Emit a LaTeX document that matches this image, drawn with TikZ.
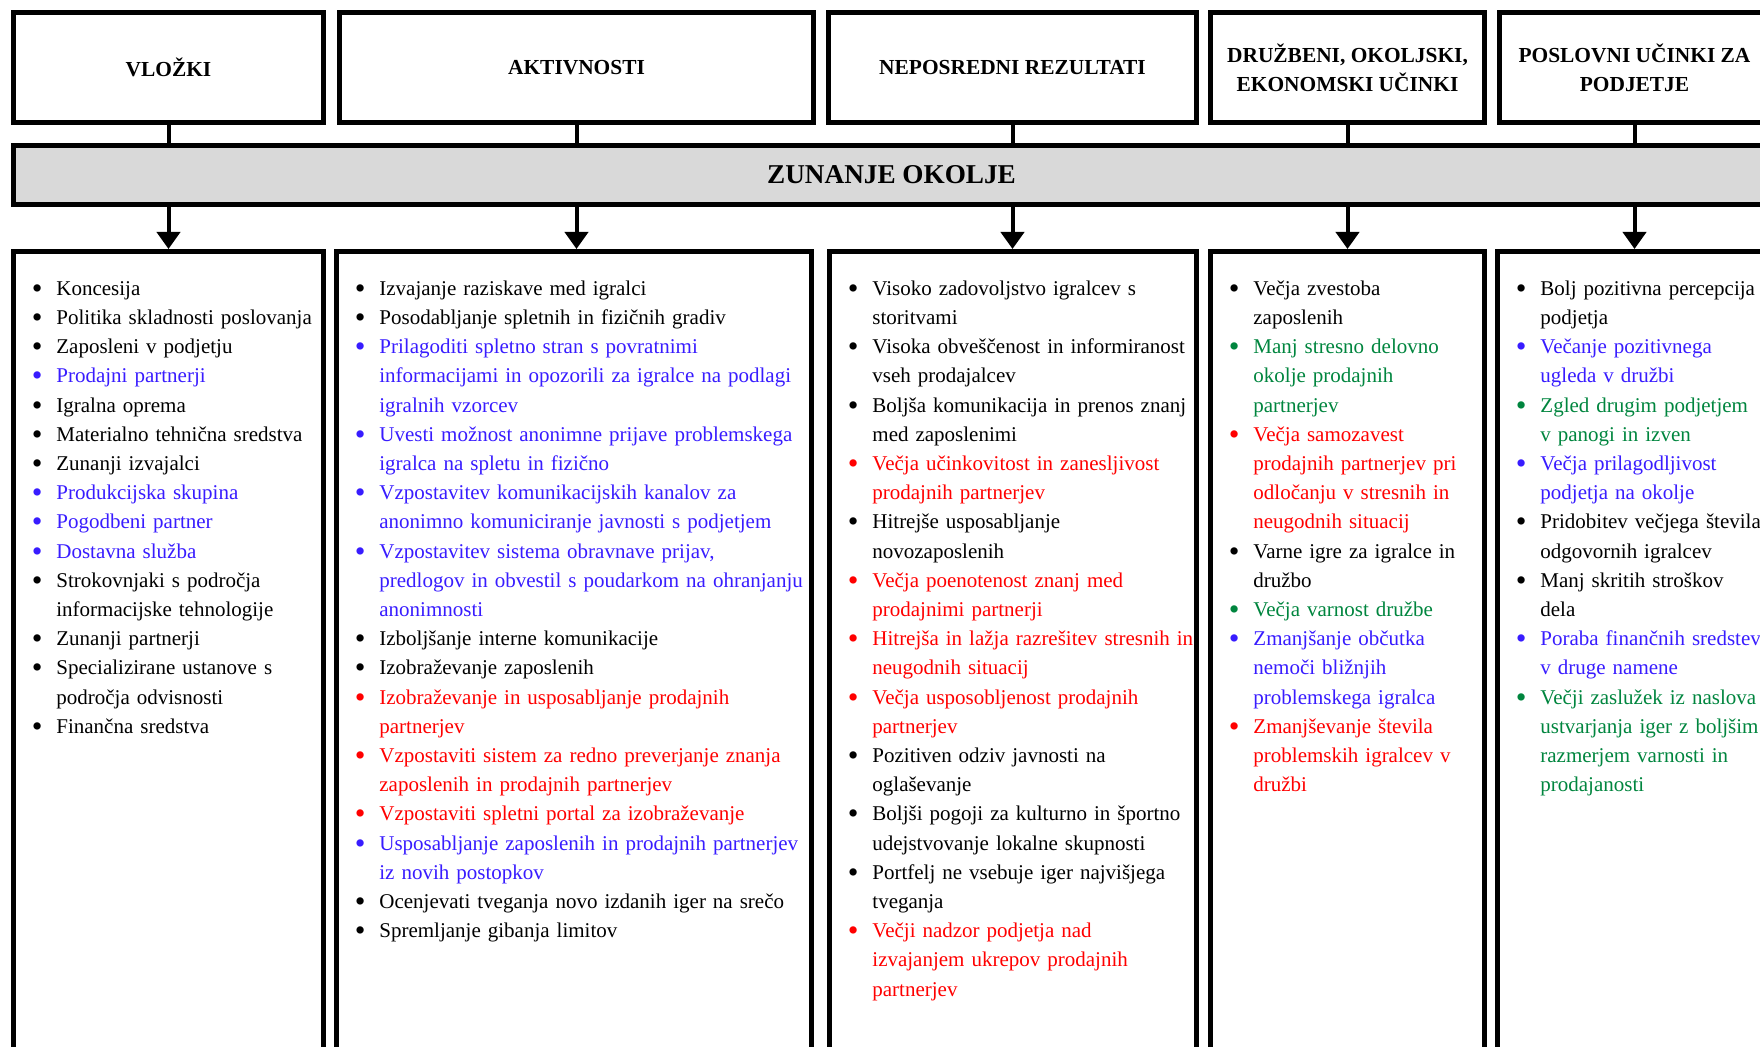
\documentclass[tikz,border=0pt]{standalone}
\usepackage{fontspec}
\setmainfont{Liberation Serif}
\usetikzlibrary{arrows.meta,positioning}
\definecolor{ItemBlue}{RGB}{56,28,255}
\definecolor{ItemRed}{RGB}{255,0,0}
\definecolor{ItemGreen}{RGB}{0,133,62}
\definecolor{BandGray}{RGB}{217,217,217}
\newlength{\bulind}
\setlength{\bulind}{11.5pt}
% one bullet point: colour, text (lines split with \newline)
\newcommand{\bitem}[2]{\par\noindent\hangindent=\bulind\hangafter=1
  {\color{#1}\makebox[\bulind][l]{\hspace*{-0.8pt}\raisebox{-1.5pt}{\scalebox{1.45}{\textbullet}}}\strut #2}\par}

\begin{document}
\begin{tikzpicture}[x=0.5pt,y=-0.5pt,
    headbox/.style={draw,line width=2.5pt,minimum height=55pt,inner sep=0pt,
      align=center,font=\bfseries\fontsize{10.7}{14.6}\selectfont},
    listbox/.style={draw,line width=2.5pt,minimum height=399.25pt,inner sep=0pt},
    itemtext/.style={inner sep=0pt,text width=250pt,
      font=\fontsize{10.5}{14.6}\selectfont},
    link/.style={line width=2pt},
    flow/.style={line width=2pt,-{Triangle[width=11.5pt,length=8.5pt]}}]
  \useasboundingbox (0,0) rectangle (1760,1047);
  \clip (0,0) rectangle (1760,1047);

  % top row
  \node[headbox,minimum width=155pt] (vlozki) at (168.5,67.5) {VLOŽKI};
  \node[headbox,minimum width=237pt] (aktiv) at (576.5,67.5) {AKTIVNOSTI};
  \node[headbox,minimum width=184pt] (rezult) at (1012.5,67.5) {NEPOSREDNI REZULTATI};
  \node[headbox,minimum width=137pt] (ucinki) at (1347.5,67.5)
    {DRUŽBENI, OKOLJSKI,\\EKONOMSKI UČINKI};
  \node[headbox,minimum width=135pt] (poslov) at (1634.5,67.5)
    {POSLOVNI UČINKI ZA\\PODJETJE};

  % band
  \node[draw,line width=2.5pt,fill=BandGray,minimum width=878pt,
    minimum height=29.5pt,inner sep=0pt,
    font=\bfseries\fontsize{13.6}{16}\selectfont] (okolje) at (891.5,175)
    {ZUNANJE OKOLJE};

  % lower boxes
  \node[listbox,minimum width=155pt] (vlozkiL) at (168.5,650.75) {};
  \node[listbox,minimum width=237.5pt] (aktivL) at (574,650.75) {};
  \node[listbox,minimum width=183.5pt] (rezultL) at (1013,650.75) {};
  \node[listbox,minimum width=137pt] (ucinkiL) at (1347.5,650.75) {};
  \node[listbox,minimum width=136pt] (poslovL) at (1633.5,650.75) {};

  \foreach \col/\lst in {vlozki/vlozkiL,aktiv/aktivL,rezult/rezultL,
      ucinki/ucinkiL,poslov/poslovL}{
    \draw[link] (\col) -- (\col |- okolje.north);
    \draw[flow] (\col |- okolje.south) -- (\col |- \lst.north);
  }

  \node[itemtext,below right=8.4pt and 11pt of vlozkiL.north west] (vlozkiT) {%
    \bitem{black}{Koncesija}
    \bitem{black}{Politika skladnosti poslovanja}
    \bitem{black}{Zaposleni v podjetju}
    \bitem{ItemBlue}{Prodajni partnerji}
    \bitem{black}{Igralna oprema}
    \bitem{black}{Materialno tehnična sredstva}
    \bitem{black}{Zunanji izvajalci}
    \bitem{ItemBlue}{Produkcijska skupina}
    \bitem{ItemBlue}{Pogodbeni partner}
    \bitem{ItemBlue}{Dostavna služba}
    \bitem{black}{Strokovnjaki s področja\newline informacijske tehnologije}
    \bitem{black}{Zunanji partnerji}
    \bitem{black}{Specializirane ustanove s\newline področja odvisnosti}
    \bitem{black}{Finančna sredstva}};

  \node[itemtext,below right=8.4pt and 11pt of aktivL.north west] (aktivT) {%
    \bitem{black}{Izvajanje raziskave med igralci}
    \bitem{black}{Posodabljanje spletnih in fizičnih gradiv}
    \bitem{ItemBlue}{Prilagoditi spletno stran s povratnimi\newline informacijami in opozorili za igralce na podlagi\newline igralnih vzorcev}
    \bitem{ItemBlue}{Uvesti možnost anonimne prijave problemskega\newline igralca na spletu in fizično}
    \bitem{ItemBlue}{Vzpostavitev komunikacijskih kanalov za\newline anonimno komuniciranje javnosti s podjetjem}
    \bitem{ItemBlue}{Vzpostavitev sistema obravnave prijav,\newline predlogov in obvestil s poudarkom na ohranjanju\newline anonimnosti}
    \bitem{black}{Izboljšanje interne komunikacije}
    \bitem{black}{Izobraževanje zaposlenih}
    \bitem{ItemRed}{Izobraževanje in usposabljanje prodajnih\newline partnerjev}
    \bitem{ItemRed}{Vzpostaviti sistem za redno preverjanje znanja\newline zaposlenih in prodajnih partnerjev}
    \bitem{ItemRed}{Vzpostaviti spletni portal za izobraževanje}
    \bitem{ItemBlue}{Usposabljanje zaposlenih in prodajnih partnerjev\newline iz novih postopkov}
    \bitem{black}{Ocenjevati tveganja novo izdanih iger na srečo}
    \bitem{black}{Spremljanje gibanja limitov}};

  \node[itemtext,below right=8.4pt and 11pt of rezultL.north west] (rezultT) {%
    \bitem{black}{Visoko zadovoljstvo igralcev s\newline storitvami}
    \bitem{black}{Visoka obveščenost in informiranost\newline vseh prodajalcev}
    \bitem{black}{Boljša komunikacija in prenos znanj\newline med zaposlenimi}
    \bitem{ItemRed}{Večja učinkovitost in zanesljivost\newline prodajnih partnerjev}
    \bitem{black}{Hitrejše usposabljanje\newline novozaposlenih}
    \bitem{ItemRed}{Večja poenotenost znanj med\newline prodajnimi partnerji}
    \bitem{ItemRed}{Hitrejša in lažja razrešitev stresnih in\newline neugodnih situacij}
    \bitem{ItemRed}{Večja usposobljenost prodajnih\newline partnerjev}
    \bitem{black}{Pozitiven odziv javnosti na\newline oglaševanje}
    \bitem{black}{Boljši pogoji za kulturno in športno\newline udejstvovanje lokalne skupnosti}
    \bitem{black}{Portfelj ne vsebuje iger najvišjega\newline tveganja}
    \bitem{ItemRed}{Večji nadzor podjetja nad\newline izvajanjem ukrepov prodajnih\newline partnerjev}};

  \node[itemtext,below right=8.4pt and 11pt of ucinkiL.north west] (ucinkiT) {%
    \bitem{black}{Večja zvestoba\newline zaposlenih}
    \bitem{ItemGreen}{Manj stresno delovno\newline okolje prodajnih\newline partnerjev}
    \bitem{ItemRed}{Večja samozavest\newline prodajnih partnerjev pri\newline odločanju v stresnih in\newline neugodnih situacij}
    \bitem{black}{Varne igre za igralce in\newline družbo}
    \bitem{ItemGreen}{Večja varnost družbe}
    \bitem{ItemBlue}{Zmanjšanje občutka\newline nemoči bližnjih\newline problemskega igralca}
    \bitem{ItemRed}{Zmanjševanje števila\newline problemskih igralcev v\newline družbi}};

  \node[itemtext,below right=8.4pt and 11pt of poslovL.north west] (poslovT) {%
    \bitem{black}{Bolj pozitivna percepcija\newline podjetja}
    \bitem{ItemBlue}{Večanje pozitivnega\newline ugleda v družbi}
    \bitem{ItemGreen}{Zgled drugim podjetjem\newline v panogi in izven}
    \bitem{ItemBlue}{Večja prilagodljivost\newline podjetja na okolje}
    \bitem{black}{Pridobitev večjega števila\newline odgovornih igralcev}
    \bitem{black}{Manj skritih stroškov\newline dela}
    \bitem{ItemBlue}{Poraba finančnih sredstev\newline v druge namene}
    \bitem{ItemGreen}{Večji zaslužek iz naslova\newline ustvarjanja iger z boljšim\newline razmerjem varnosti in\newline prodajanosti}};
\end{tikzpicture}
\end{document}
